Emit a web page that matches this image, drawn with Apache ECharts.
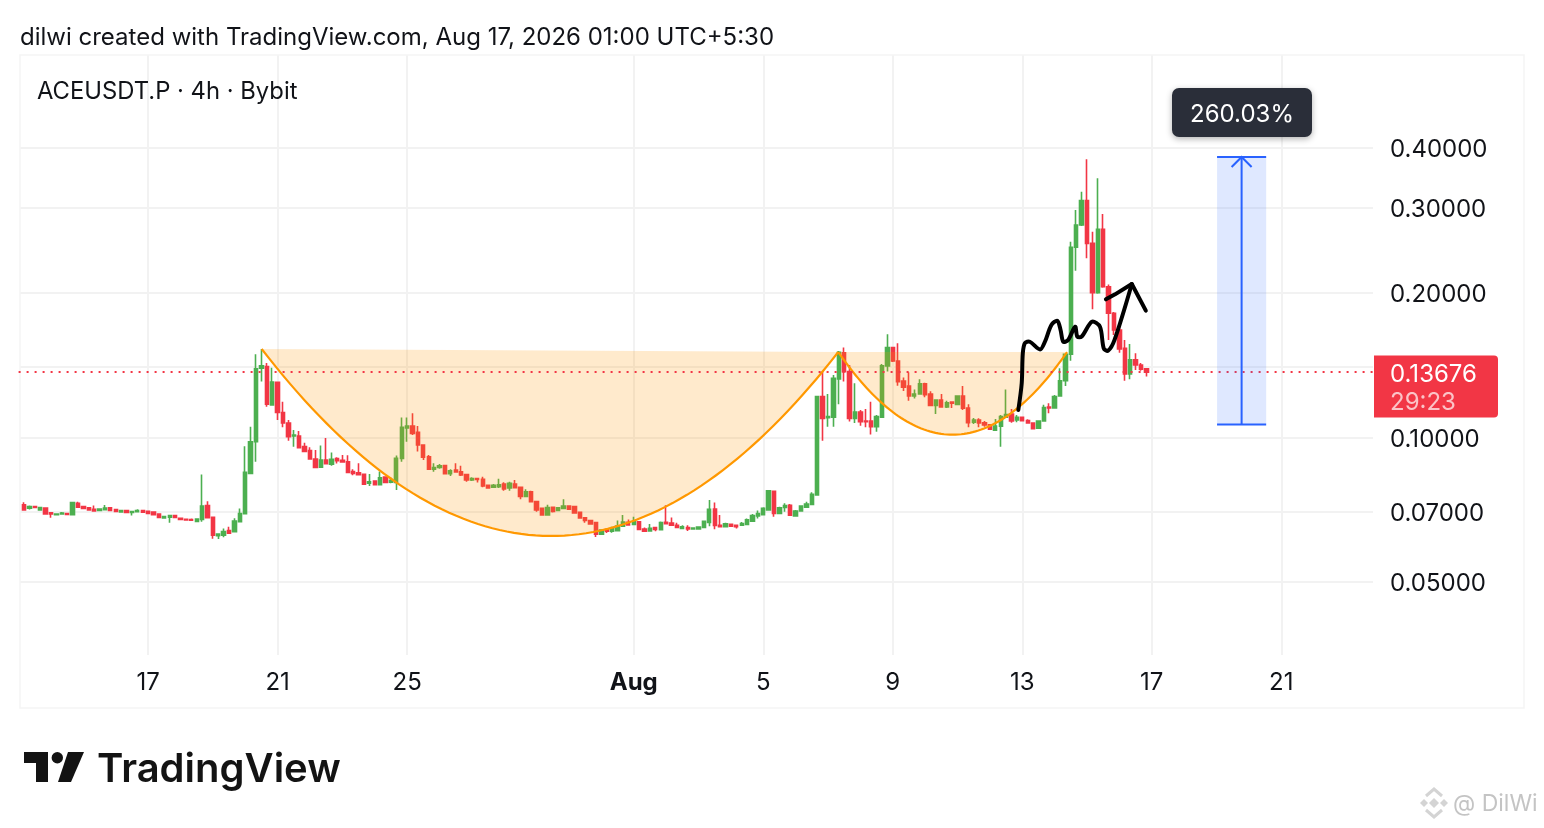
<!DOCTYPE html>
<html>
<head>
<meta charset="utf-8">
<style>html,body{margin:0;padding:0;background:#fff}#c{width:1544px;height:828px}</style>
<script src="https://cdn.jsdelivr.net/npm/echarts@6/dist/echarts.min.js"></script>
</head>
<body>
<div id="c"></div>
<script>
const opens=[.0724,.0713,.0718,.0707,.0713,.0697,.0691,.0693,.0695,.0691,.0730,.0718,.0714,.0709,.0705,.0708,.0714,.0708,.0700,.0705,.0698,.0701,.0705,.0702,.0700,.0693,.0680,.0683,.0688,.0679,.0676,.0675,.0669,.0675,.0722,.0682,.0625,.0626,.0640,.0637,.0668,.0694,.0842,.0980,.1394,.1405,.1169,.1303,.1127,.1072,.1007,.1007,.0957,.0939,.0902,.0867,.0898,.0880,.0904,.0897,.0890,.0849,.0844,.0838,.0803,.0812,.0798,.0827,.0807,.0806,.0905,.1047,.1056,.1025,.0965,.0912,.0859,.0866,.0874,.0841,.0856,.0848,.0837,.0816,.0821,.0819,.0795,.0788,.0790,.0800,.0785,.0800,.0788,.0754,.0771,.0736,.0712,.0690,.0716,.0705,.0712,.0720,.0718,.0699,.0681,.0672,.0665,.0629,.0644,.0638,.0640,.0654,.0666,.0659,.0668,.0645,.0639,.0650,.0643,.0666,.0664,.0657,.0647,.0650,.0645,.0645,.0650,.0666,.0710,.0657,.0652,.0660,.0657,.0657,.0659,.0670,.0687,.0691,.0707,.0773,.0695,.0715,.0723,.0687,.0703,.0716,.0726,.0759,.1216,.1100,.1102,.1323,.1501,.1371,.1096,.1129,.1082,.1082,.1053,.1102,.1409,.1539,.1443,.1310,.1279,.1220,.1232,.1293,.1232,.1166,.1197,.1157,.1185,.1172,.1220,.1152,.1076,.1087,.1073,.1063,.1036,.1056,.1102,.1119,.1087,.1102,.1084,.1072,.1045,.1082,.1157,.1152,.1220,.1312,.1490,.2487,.2767,.3112,.2534,.2001,.2710,.2059,.1813,.1674,.1533,.1355,.1450,.1415,.1390];
const highs=[.0733,.0722,.0719,.0718,.0715,.0698,.0695,.0700,.0696,.0734,.0735,.0721,.0717,.0722,.0712,.0724,.0716,.0709,.0706,.0706,.0703,.0709,.0706,.0705,.0702,.0694,.0686,.0689,.0689,.0680,.0677,.0678,.0679,.0838,.0737,.0683,.0632,.0647,.0652,.0679,.0712,.0959,.1053,.1490,.1528,.1428,.1397,.1305,.1187,.1087,.1036,.1032,.0975,.0954,.0942,.0962,.0998,.0931,.0910,.0920,.0918,.0859,.0884,.0840,.0840,.0813,.0850,.0829,.0827,.0917,.1100,.1100,.1123,.1056,.0967,.0920,.0884,.0881,.0875,.0859,.0884,.0873,.0838,.0827,.0822,.0829,.0796,.0800,.0821,.0807,.0809,.0816,.0790,.0780,.0775,.0738,.0713,.0725,.0718,.0716,.0744,.0721,.0720,.0700,.0682,.0673,.0666,.0644,.0645,.0652,.0672,.0690,.0675,.0684,.0669,.0650,.0661,.0651,.0669,.0723,.0682,.0665,.0657,.0657,.0649,.0654,.0670,.0741,.0732,.0690,.0665,.0661,.0658,.0667,.0678,.0693,.0705,.0716,.0778,.0775,.0718,.0730,.0727,.0707,.0722,.0735,.0769,.1221,.1371,.1232,.1349,.1514,.1539,.1415,.1296,.1141,.1146,.1187,.1114,.1422,.1640,.1545,.1570,.1333,.1367,.1259,.1322,.1300,.1248,.1201,.1232,.1192,.1186,.1224,.1279,.1173,.1098,.1096,.1082,.1064,.1093,.1114,.1259,.1146,.1114,.1105,.1091,.1076,.1083,.1170,.1178,.1226,.1394,.1495,.2553,.2972,.3244,.3790,.2680,.3460,.2916,.2080,.1825,.1700,.1596,.1564,.1497,.1428,.1393];
const lows=[.0705,.0708,.0714,.0705,.0692,.0681,.0690,.0692,.0691,.0690,.0714,.0711,.0704,.0701,.0704,.0707,.0704,.0701,.0699,.0697,.0688,.0700,.0698,.0693,.0690,.0681,.0679,.0665,.0681,.0674,.0673,.0672,.0667,.0668,.0680,.0616,.0615,.0620,.0631,.0636,.0667,.0693,.0840,.0890,.1307,.1158,.1165,.1087,.1050,.0985,.0957,.0950,.0933,.0900,.0864,.0865,.0880,.0873,.0883,.0887,.0844,.0835,.0835,.0798,.0793,.0797,.0796,.0804,.0803,.0778,.0890,.0980,.1012,.0935,.0898,.0857,.0849,.0861,.0839,.0832,.0847,.0832,.0809,.0812,.0806,.0788,.0782,.0785,.0785,.0775,.0775,.0785,.0744,.0752,.0733,.0701,.0689,.0689,.0698,.0704,.0711,.0708,.0696,.0679,.0665,.0660,.0621,.0628,.0633,.0634,.0639,.0653,.0657,.0658,.0643,.0637,.0638,.0638,.0642,.0661,.0656,.0649,.0646,.0639,.0644,.0644,.0649,.0654,.0644,.0651,.0651,.0653,.0647,.0656,.0658,.0668,.0678,.0690,.0706,.0684,.0694,.0701,.0688,.0684,.0702,.0715,.0725,.0757,.0985,.1053,.1053,.1173,.1307,.1079,.1072,.1058,.1050,.1015,.1028,.1100,.1371,.1435,.1282,.1250,.1192,.1206,.1230,.1212,.1164,.1119,.1155,.1152,.1152,.1170,.1141,.1050,.1067,.1050,.1053,.1038,.1032,.0957,.1100,.1073,.1076,.1079,.1071,.1041,.1044,.1081,.1123,.1151,.1217,.1279,.1445,.2223,.2755,.2359,.1848,.1990,.2050,.1596,.1634,.1501,.1312,.1322,.1382,.1377,.1339];
const closes=[.0707,.0718,.0715,.0715,.0693,.0693,.0693,.0696,.0692,.0732,.0716,.0712,.0707,.0703,.0710,.0713,.0705,.0702,.0705,.0698,.0701,.0705,.0699,.0695,.0691,.0682,.0685,.0688,.0682,.0675,.0674,.0673,.0677,.0720,.0681,.0626,.0630,.0637,.0632,.0670,.0695,.0846,.0980,.1389,.1409,.1173,.1304,.1127,.1072,.1004,.1012,.0952,.0935,.0902,.0866,.0898,.0882,.0901,.0895,.0889,.0846,.0842,.0837,.0800,.0809,.0798,.0824,.0806,.0814,.0905,.1050,.1056,.1020,.0965,.0910,.0859,.0866,.0873,.0841,.0853,.0848,.0836,.0816,.0821,.0818,.0793,.0785,.0795,.0797,.0782,.0803,.0786,.0754,.0771,.0735,.0707,.0690,.0715,.0702,.0714,.0720,.0709,.0697,.0680,.0672,.0661,.0629,.0642,.0638,.0647,.0654,.0667,.0658,.0668,.0644,.0638,.0647,.0644,.0665,.0662,.0657,.0650,.0652,.0645,.0648,.0651,.0669,.0709,.0656,.0652,.0661,.0654,.0652,.0662,.0674,.0688,.0695,.0712,.0775,.0695,.0714,.0722,.0689,.0703,.0720,.0727,.0762,.1216,.1096,.1105,.1328,.1504,.1371,.1096,.1129,.1079,.1079,.1053,.1105,.1409,.1539,.1443,.1307,.1273,.1220,.1232,.1293,.1228,.1166,.1197,.1157,.1181,.1178,.1220,.1150,.1073,.1087,.1072,.1062,.1040,.1056,.1105,.1116,.1082,.1102,.1084,.1072,.1043,.1082,.1154,.1152,.1216,.1312,.1490,.2487,.2767,.3112,.2534,.2001,.2710,.2059,.1813,.1674,.1528,.1355,.1450,.1415,.1387,.13676];

const dayTickBars=[23,47,71,113,137,161,185,209,233];
const dayTickLabels=['17','21','25','Aug','5','9','13','17','21'];
const priceLabels=[0.05,0.07,0.1,0.2,0.3,0.4];
const priceGrid=[0.05,0.07,0.1,0.14,0.2,0.3,0.4];
const lastPrice=0.13676;

// TradingView arc drawings: start, control, end anchors as [bar, price]
const cup1Anchors=[[44.05,.1528],[97.5,.02567],[150.9,.1506]];
const cup2Anchors=[[150.9,.1506],[172.1,.0682],[193.3,.1506]];
const scribble=[[184.27,.1141],[184.9,.1298],[185.1,.1497],[185.5,.1572],[186.4,.1582],[188.3,.1525],[189.2,.1582],[190.4,.1714],[191.5,.1749],[192.1,.1674],[192.6,.1582],[193.5,.1596],[194.8,.1700],[195.2,.1621],[196.0,.1621],[197.9,.1741],[199.4,.1700],[200.1,.1533],[200.9,.1515],[202.1,.1596],[205.3,.2086]];
const scribbleArrow=[[200.5,.1938],[202.2,.1985],[205.3,.2086],[207.9,.1836]];
const rangeLow=0.1064, rangeHigh=0.3832, rangeLeft=221.1, rangeRight=230.2;

const FONT='Inter, "Noto Sans", sans-serif';
const INK='#111318';
const total=252;
const base=Date.UTC(2026,6,13,0,0);
const categories=[];
for(let k=0;k<total;k++){categories.push(new Date(base+k*4*3600e3).toISOString().slice(0,16));}
const tickByCat={};
dayTickBars.forEach((b,i)=>{tickByCat[b+1]=dayTickLabels[i];});
const candles=[];
for(let k=0;k<total;k++){
  const n=k-1;
  candles.push(n>=0&&n<opens.length?[opens[n],closes[n],lows[n],highs[n]]:'-');
}
function drawingSeries(z,fn){
  return {type:'custom',coordinateSystem:'cartesian2d',data:[[0,0.1]],z:z,silent:true,animation:false,clip:true,
    encode:{x:0,y:1},
    renderItem:function(p,api){
      const pt=function(a){
        const k=a[0]+1,f=Math.floor(k);
        const c0=api.coord([f,a[1]]),c1=api.coord([f+1,a[1]]);
        return [c0[0]+(c1[0]-c0[0])*(k-f),c0[1]];
      };
      return {type:'group',children:fn(pt)};
    }};
}
function cupChildren(anchors,pt){
  const a=pt(anchors[0]),c=pt(anchors[1]),b=pt(anchors[2]);
  const pts=[];
  for(let i=0;i<=80;i++){
    const t=i/80,u=1-t;
    pts.push([u*u*a[0]+2*u*t*c[0]+t*t*b[0],u*u*a[1]+2*u*t*c[1]+t*t*b[1]]);
  }
  return [
    {type:'polygon',shape:{points:pts},style:{fill:'rgba(255,152,0,0.2)',stroke:null}},
    {type:'polyline',shape:{points:pts},style:{fill:null,stroke:'#FF9800',lineWidth:2.2}}
  ];
}
const chart=echarts.init(document.getElementById('c'),null,{renderer:'canvas'});
const gfx=[];
gfx.push({type:'rect',shape:{x:0,y:50,width:20,height:610},style:{fill:'#fff'},z:1,silent:true});
gfx.push({type:'rect',shape:{x:20,y:55,width:1504,height:653},style:{fill:'none',stroke:'#f5f5f5',lineWidth:1.5},z:1,silent:true});
gfx.push({type:'text',x:20,y:38,style:{text:'dilwi created with TradingView.com, Aug 17, 2026 01:00 UTC+5:30',font:'400 24px '+FONT,fill:INK,textVerticalAlign:'middle'},z:10});
gfx.push({type:'text',x:37,y:92,style:{text:'ACEUSDT.P · 4h · Bybit',font:'400 23.8px '+FONT,fill:INK,textVerticalAlign:'middle'},z:10});
gfx.push({type:'rect',shape:{x:1172,y:88,width:140,height:49,r:7},style:{fill:'#2A2E39',shadowBlur:6,shadowColor:'rgba(0,0,0,0.3)',shadowOffsetY:2},z:10});
gfx.push({type:'text',x:1242,y:115,style:{text:'260.03%',font:'400 24px '+FONT,fill:'#fff',textAlign:'center',textVerticalAlign:'middle'},z:11});
gfx.push({type:'rect',shape:{x:1374,y:355.5,width:124,height:62,r:[0,4,4,0]},style:{fill:'#F23645'},z:10});
gfx.push({type:'text',x:1390,y:375,style:{text:'0.13676',font:'400 24px '+FONT,fill:'#fff',textVerticalAlign:'middle'},z:11});
gfx.push({type:'text',x:1390,y:403,style:{text:'29:23',font:'400 24px '+FONT,fill:'rgba(255,255,255,0.7)',textVerticalAlign:'middle'},z:11});
// TradingView logo
gfx.push({type:'polygon',shape:{points:[[24,752],[48,752],[48,782],[36,782],[36,763],[24,763]]},style:{fill:'#131313'},z:10});
gfx.push({type:'circle',shape:{cx:57.3,cy:757.7,r:5.7},style:{fill:'#131313'},z:10});
gfx.push({type:'polygon',shape:{points:[[68,752],[84,752],[71,782],[58,782]]},style:{fill:'#131313'},z:10});
gfx.push({type:'text',x:97,y:770,style:{text:'TradingView',font:'600 40px '+FONT,fill:'#131313',textVerticalAlign:'middle'},z:10});
// watermark
const WM='#d4d4d4';
gfx.push({type:'polygon',shape:{points:[[1434,798],[1439,803],[1434,808],[1429,803]]},style:{fill:WM},z:10});
gfx.push({type:'polygon',shape:{points:[[1424,799],[1428,803],[1424,807],[1420,803]]},style:{fill:WM},z:10});
gfx.push({type:'polygon',shape:{points:[[1444,799],[1448,803],[1444,807],[1440,803]]},style:{fill:WM},z:10});
gfx.push({type:'polyline',shape:{points:[[1426,796],[1434,789],[1442,796]]},style:{fill:null,stroke:WM,lineWidth:3},z:10});
gfx.push({type:'polyline',shape:{points:[[1426,810],[1434,817],[1442,810]]},style:{fill:null,stroke:WM,lineWidth:3},z:10});
gfx.push({type:'text',x:1453,y:804,style:{text:'@ DilWi',font:'400 23px '+FONT,fill:'#c4c4c4',textVerticalAlign:'middle'},z:10});

chart.setOption({
  animation:false,
  backgroundColor:'#ffffff',
  grid:{left:18.6,top:55,width:1354.4,height:600,containLabel:false},
  xAxis:{type:'category',data:categories,boundaryGap:false,
    axisLine:{show:false},axisTick:{show:false},
    splitLine:{show:true,interval:(i)=>tickByCat[i]!==undefined,lineStyle:{color:'#f2f2f2',width:2}},
    axisLabel:{show:true,margin:16,interval:(i)=>tickByCat[i]!==undefined,hideOverlap:false,
      formatter:(v,i)=>{const t=tickByCat[i];return t==='Aug'?'{b|Aug}':t;},
      fontFamily:FONT,fontSize:24,color:INK,
      rich:{b:{fontFamily:FONT,fontSize:24,fontWeight:700,color:INK}}}},
  yAxis:{type:'log',logBase:10,min:0.03528,max:0.6247,position:'right',
    axisLine:{show:false},
    axisTick:{show:false,customValues:priceGrid},
    splitLine:{show:true,lineStyle:{color:'#f2f2f2',width:2}},
    axisLabel:{show:true,margin:17,customValues:priceLabels,formatter:(v)=>'{p|'+Number(v).toFixed(5)+'}',
      fontFamily:FONT,fontSize:24,color:INK,
      rich:{p:{fontFamily:FONT,fontSize:24,color:INK,padding:[4,0,0,0]}}}},
  graphic:gfx,
  series:[
    {type:'candlestick',data:candles,barWidth:3.8,z:3,
     itemStyle:{color:'#4CAF50',color0:'#F23645',borderColor:'#4CAF50',borderColor0:'#F23645',borderWidth:1.6},
     markLine:{silent:true,symbol:'none',animation:false,precision:5,label:{show:false},
       lineStyle:{color:'#F23645',type:[2,6],width:2},data:[{yAxis:lastPrice}]}},
    drawingSeries(4,(pt)=>cupChildren(cup1Anchors,pt)),
    drawingSeries(4,(pt)=>cupChildren(cup2Anchors,pt)),
    drawingSeries(6,(pt)=>{
      const tl=pt([rangeLeft,rangeHigh]),br=pt([rangeRight,rangeLow]);
      const mx=(tl[0]+br[0])/2;
      const blue='#2962FF';
      return [
        {type:'rect',shape:{x:tl[0],y:tl[1],width:br[0]-tl[0],height:br[1]-tl[1]},style:{fill:'rgba(41,98,255,0.15)'}},
        {type:'line',shape:{x1:tl[0],y1:tl[1],x2:br[0],y2:tl[1]},style:{stroke:blue,lineWidth:2}},
        {type:'line',shape:{x1:tl[0],y1:br[1],x2:br[0],y2:br[1]},style:{stroke:blue,lineWidth:2}},
        {type:'line',shape:{x1:mx,y1:tl[1],x2:mx,y2:br[1]},style:{stroke:blue,lineWidth:2}},
        {type:'polyline',shape:{points:[[mx-10,tl[1]+10],[mx,tl[1]],[mx+10,tl[1]+10]]},style:{fill:null,stroke:blue,lineWidth:2}}
      ];
    }),
    drawingSeries(7,(pt)=>[
      {type:'polyline',shape:{points:scribble.map(pt),smooth:0.3},style:{fill:null,stroke:'#000',lineWidth:4,lineCap:'round',lineJoin:'round'}},
      {type:'polyline',shape:{points:scribbleArrow.map(pt)},style:{fill:null,stroke:'#000',lineWidth:4,lineCap:'round',lineJoin:'round'}}
    ])
  ]
});
</script>
</body>
</html>
